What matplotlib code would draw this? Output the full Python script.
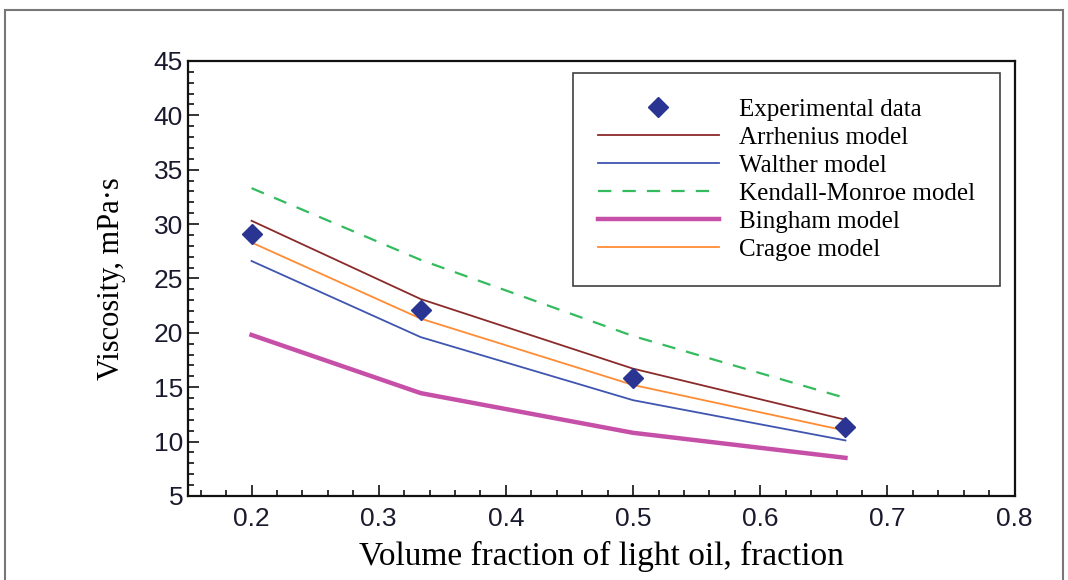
import numpy as np
import matplotlib.pyplot as plt
from matplotlib.patches import Rectangle
from matplotlib.ticker import MultipleLocator

# Volume fraction of light oil
frac = [0.2, 0.333, 0.5, 0.667]

# Viscosity, mPa·s
experimental = [29.1, 22.1, 15.8, 11.3]
arrhenius = [30.3, 23.1, 16.7, 12.0]
walther = [26.6, 19.6, 13.8, 10.1]
kendall_monroe = [33.3, 26.7, 19.7, 14.0]
bingham = [19.8, 14.45, 10.8, 8.5]
cragoe = [28.3, 21.3, 15.2, 11.0]

fig = plt.figure(figsize=(10.68, 5.8), dpi=100)
ax = fig.add_axes([0.176, 0.145, 0.774, 0.750])

# thin grey frame round the whole figure, as in the scanned picture
fig.patches.append(Rectangle((5 / 1068, -0.1), 1058 / 1068, 1.1 - 10 / 580,
                             transform=fig.transFigure, fill=False,
                             edgecolor='#777777', linewidth=1.5))

ax.plot(frac, experimental, linestyle='none', marker='D', markersize=10,
        color='#2a3593', label='Experimental data', zorder=5)
ax.plot(frac, arrhenius, color='#8b2a2a', linewidth=1.3, label='Arrhenius model')
ax.plot(frac, walther, color='#3f55b0', linewidth=1.3, label='Walther model')
ax.plot(frac, kendall_monroe, color='#33bb5e', linewidth=1.6, dashes=(6, 5),
        label='Kendall-Monroe model')
ax.plot(frac, bingham, color='#c64fa8', linewidth=3.2, label='Bingham model')
ax.plot(frac, cragoe, color='#ff8c33', linewidth=1.3, label='Cragoe model')

ax.set_xlim(0.15, 0.8)
ax.set_ylim(5, 45)
ax.xaxis.set_minor_locator(MultipleLocator(0.02))
ax.yaxis.set_major_locator(MultipleLocator(5))
ax.yaxis.set_minor_locator(MultipleLocator(1))
ax.set_xticks([0.2, 0.3, 0.4, 0.5, 0.6, 0.7, 0.8])
ax.set_xticklabels(['0.2', '0.3', '0.4', '0.5', '0.6', '0.7', '0.8'])

ax.tick_params(which='both', direction='in', top=False, right=False,
               labelsize=19, width=1.2, colors='#111111')
ax.tick_params(which='major', length=8)
ax.tick_params(which='minor', length=4.5)
for lab in ax.get_xticklabels() + ax.get_yticklabels():
    lab.set_family('Liberation Sans')
    lab.set_color('#1a1a2e')
ax.tick_params(axis='x', pad=8)
for sp in ax.spines.values():
    sp.set_linewidth(1.6)
    sp.set_color('#111111')

ax.set_xlabel('Volume fraction of light oil, fraction', family='Liberation Serif',
              fontsize=24, labelpad=7)
ax.set_ylabel('Viscosity, mPa·s', family='Liberation Serif', fontsize=22,
              labelpad=20)

leg = ax.legend(loc='upper right', bbox_to_anchor=(0.982, 0.972),
                prop={'family': 'Liberation Serif', 'size': 18},
                handlelength=4.84, handletextpad=0.8, labelspacing=0.22,
                borderpad=1.0, borderaxespad=0, fancybox=False,
                frameon=True, edgecolor='#111111')
leg.get_frame().set_linewidth(1.2)

fig.savefig('out.png', dpi=100)
